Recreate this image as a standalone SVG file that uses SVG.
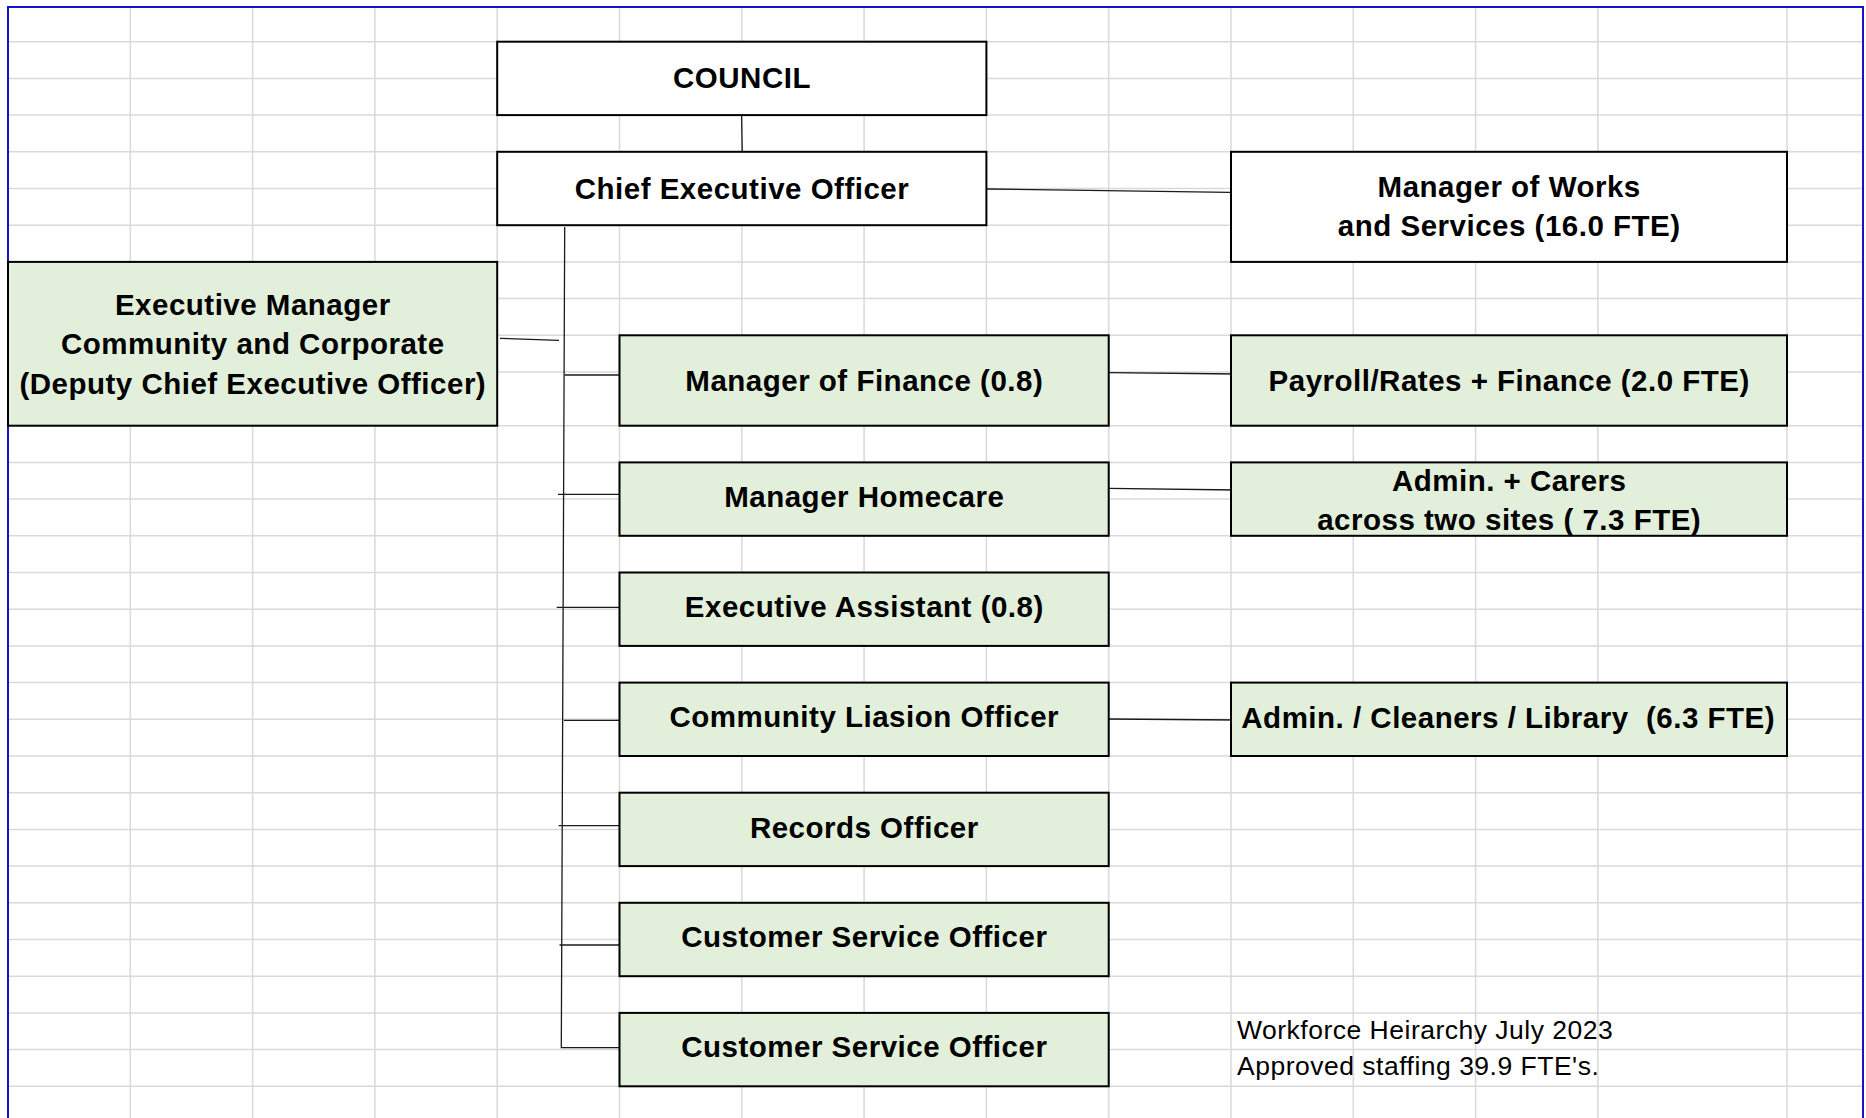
<svg xmlns="http://www.w3.org/2000/svg" width="1866" height="1118" viewBox="0 0 1866 1118">
  <style>
    .grid { fill: none; stroke: #d9d9d9; stroke-width: 1.5; }
    .frame { fill: none; stroke: #1414c8; stroke-width: 2; }
    .box { stroke: #000; stroke-width: 2; }
    .plain { fill: #ffffff; }
    .green { fill: #e2efda; }
    text { font-family: Arial, "Liberation Sans", Helvetica, sans-serif; fill: #000; letter-spacing: 0.5px; }
    .lbl { font-weight: bold; font-size: 29.5px; text-anchor: middle; white-space: pre; }
    .note { font-size: 26.5px; }
    .link { fill: none; stroke: #1a1a1a; stroke-width: 1.3; }
  </style>

  <rect x="0" y="0" width="1866" height="1118" fill="#ffffff"/>

  <!-- worksheet gridlines -->
  <g id="gridlines">
    <path class="grid" d="M130.3 7V1118M252.6 7V1118M374.9 7V1118M497.2 7V1118M619.5 7V1118M741.8 7V1118M864.1 7V1118M986.4 7V1118M1108.7 7V1118M1231 7V1118M1353.3 7V1118M1475.6 7V1118M1597.9 7V1118M1787 7V1118"/>
    <path class="grid" d="M8 41.7H1863M8 78.4H1863M8 115.1H1863M8 151.8H1863M8 188.5H1863M8 225.2H1863M8 261.9H1863M8 298.6H1863M8 335.3H1863M8 372H1863M8 425.7H1863M8 462.4H1863M8 499.1H1863M8 535.8H1863M8 572.5H1863M8 609.2H1863M8 645.9H1863M8 682.6H1863M8 719.3H1863M8 756H1863M8 792.7H1863M8 829.4H1863M8 866.1H1863M8 902.8H1863M8 939.5H1863M8 976.2H1863M8 1012.9H1863M8 1049.6H1863M8 1086.3H1863"/>
  </g>

  <!-- print-area frame -->
  <path class="frame" d="M8 1118V7H1863V1118"/>

  <!-- reporting lines -->
  <g id="connectors">
    <path class="link" d="M741.6 115.5L742.4 161.7"/>
    <path class="link" d="M987 189L1230 192.3"/>
    <path class="link" d="M564.7 227L561.3 1047.7H625"/>
    <path class="link" d="M500 338.3L559 340.3"/>
    <path class="link" d="M564.7 375H628.6"/>
    <path class="link" d="M558 494.3H622.5"/>
    <path class="link" d="M556.7 607.3H620.5"/>
    <path class="link" d="M564 720.3H628.4"/>
    <path class="link" d="M558.6 825.7H622"/>
    <path class="link" d="M559.5 945H623.8"/>
    <path class="link" d="M1108.6 372.7L1237.7 374"/>
    <path class="link" d="M1108.6 488.3L1236.8 490"/>
    <path class="link" d="M1108.6 719L1236.8 720"/>
  </g>

  <g id="council">
    <rect class="box plain" x="497.2" y="41.7" width="489.2" height="73.4"/>
    <text class="lbl" x="742" y="88">COUNCIL</text>
  </g>

  <g id="ceo">
    <rect class="box plain" x="497.2" y="151.8" width="489.2" height="73.4"/>
    <text class="lbl" x="742" y="199">Chief Executive Officer</text>
  </g>

  <g id="works">
    <rect class="box plain" x="1231" y="151.8" width="556" height="110.1"/>
    <text class="lbl" x="1509.2" y="197.3">Manager of Works</text>
    <text class="lbl" x="1509.2" y="235.7">and Services (16.0 FTE)</text>
  </g>

  <g id="exec-manager">
    <rect class="box green" x="8" y="261.9" width="489.2" height="163.8"/>
    <text class="lbl" x="252.8" y="315">Executive Manager</text>
    <text class="lbl" x="252.8" y="354">Community and Corporate</text>
    <text class="lbl" x="252.8" y="393.5">(Deputy Chief Executive Officer)</text>
  </g>

  <g id="finance">
    <rect class="box green" x="619.5" y="335.3" width="489.2" height="90.4"/>
    <text class="lbl" x="864.3" y="390.5">Manager of Finance (0.8)</text>
  </g>

  <g id="payroll">
    <rect class="box green" x="1231" y="335.3" width="556" height="90.4"/>
    <text class="lbl" x="1509.2" y="390.5">Payroll/Rates + Finance (2.0 FTE)</text>
  </g>

  <g id="homecare">
    <rect class="box green" x="619.5" y="462.4" width="489.2" height="73.4"/>
    <text class="lbl" x="864.3" y="507.3">Manager Homecare</text>
  </g>

  <g id="carers">
    <rect class="box green" x="1231" y="462.4" width="556" height="73.4"/>
    <text class="lbl" x="1509.2" y="491">Admin. + Carers</text>
    <text class="lbl" x="1509.2" y="530.3">across two sites ( 7.3 FTE)</text>
  </g>

  <g id="exec-assistant">
    <rect class="box green" x="619.5" y="572.5" width="489.2" height="73.4"/>
    <text class="lbl" x="864.3" y="617.3">Executive Assistant (0.8)</text>
  </g>

  <g id="liaison">
    <rect class="box green" x="619.5" y="682.6" width="489.2" height="73.4"/>
    <text class="lbl" x="864.3" y="727.3">Community Liasion Officer</text>
  </g>

  <g id="admin-cleaners">
    <rect class="box green" x="1231" y="682.6" width="556" height="73.4"/>
    <text class="lbl" x="1508.2" y="727.8">Admin. / Cleaners / Library  (6.3 FTE)</text>
  </g>

  <g id="records">
    <rect class="box green" x="619.5" y="792.7" width="489.2" height="73.4"/>
    <text class="lbl" x="864.3" y="837.8">Records Officer</text>
  </g>

  <g id="cso-1">
    <rect class="box green" x="619.5" y="902.8" width="489.2" height="73.4"/>
    <text class="lbl" x="864.3" y="947.3">Customer Service Officer</text>
  </g>

  <g id="cso-2">
    <rect class="box green" x="619.5" y="1012.9" width="489.2" height="73.4"/>
    <text class="lbl" x="864.3" y="1056.8">Customer Service Officer</text>
  </g>

  <g id="footnote">
    <text class="note" x="1237" y="1039">Workforce Heirarchy July 2023</text>
    <text class="note" x="1237" y="1074.5">Approved staffing 39.9 FTE's.</text>
  </g>
</svg>
